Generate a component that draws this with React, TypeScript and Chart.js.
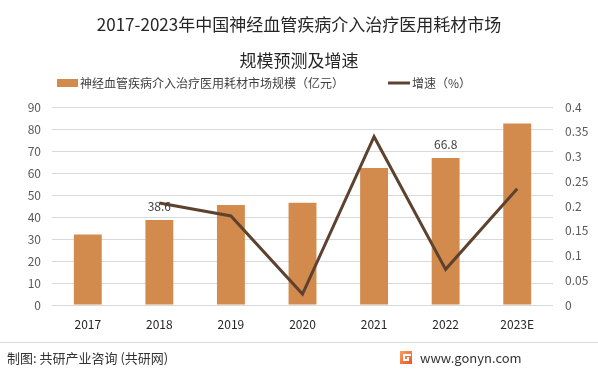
import React, { useEffect, useRef } from "react";
import { Chart, registerables } from "chart.js";

Chart.register(...registerables);

const categories = ["2017", "2018", "2019", "2020", "2021", "2022", "2023E"];
const marketSize = [32, 38.6, 45.5, 46.5, 62.3, 66.8, 82.5];
const growthRate = [null, 0.206, 0.18, 0.022, 0.34, 0.072, 0.235];
const labeledIndexes = [1, 5];
const titleLines = ["2017-2023年中国神经血管疾病介入治疗医用耗材市场", "规模预测及增速"];
const barLegend = "神经血管疾病介入治疗医用耗材市场规模（亿元）";
const lineLegend = "增速（%）";
const sourceText = "制图: 共研产业咨询 (共研网)";
const siteText = "www.gonyn.com";

const FONT = '"Noto Sans CJK SC", "Noto Sans", sans-serif';
const BAR_COLOR = "#D38B4D";
const LINE_COLOR = "#5E4230";

const decorPlugin = {
  id: "decor",
  afterDatasetsDraw(chart: any) {
    const ctx = chart.ctx;
    const meta = chart.getDatasetMeta(0);
    ctx.save();
    ctx.font = `12px ${FONT}`;
    ctx.fillStyle = "#404040";
    ctx.textAlign = "center";
    ctx.textBaseline = "middle";
    labeledIndexes.forEach((i) => {
      const el = meta.data[i];
      ctx.fillText(String(marketSize[i]), el.x, el.y - 14);
    });
    ctx.restore();
  },
  afterDraw(chart: any) {
    const ctx = chart.ctx;
    const W = chart.width;
    ctx.save();
    // title
    ctx.fillStyle = "#262626";
    ctx.font = `17px ${FONT}`;
    ctx.textAlign = "center";
    ctx.textBaseline = "middle";
    ctx.fillText(titleLines[0], W / 2, 25);
    ctx.fillText(titleLines[1], W / 2, 61);
    // legend
    ctx.font = `12px ${FONT}`;
    ctx.textAlign = "left";
    ctx.fillStyle = BAR_COLOR;
    ctx.fillRect(57, 79, 21, 8);
    ctx.fillStyle = "#404040";
    ctx.fillText(barLegend, 80, 83);
    ctx.strokeStyle = LINE_COLOR;
    ctx.lineWidth = 3;
    ctx.beginPath();
    ctx.moveTo(388, 83);
    ctx.lineTo(410, 83);
    ctx.stroke();
    ctx.fillText(lineLegend, 412, 83);
    // separator
    ctx.strokeStyle = "#D9D9D9";
    ctx.lineWidth = 1;
    ctx.beginPath();
    ctx.moveTo(0, 342.5);
    ctx.lineTo(W, 342.5);
    ctx.stroke();
    // footer
    ctx.fillStyle = "#333333";
    ctx.font = `13px ${FONT}`;
    ctx.fillText(sourceText, 7, 358);
    ctx.fillText(siteText, 420, 358);
    // logo
    const grad = ctx.createLinearGradient(400, 351, 412, 364);
    grad.addColorStop(0, "#F7A35C");
    grad.addColorStop(1, "#E8532B");
    ctx.fillStyle = grad;
    ctx.fillRect(400, 351, 12, 13);
    ctx.fillStyle = "#ffffff";
    ctx.fillRect(403, 354, 8, 2);
    ctx.fillRect(403, 354, 2, 7);
    ctx.fillRect(403, 359, 6, 2);
    ctx.fillRect(407, 357, 2, 4);
    ctx.restore();
  },
};

export default function App() {
  const ref = useRef<HTMLCanvasElement>(null);
  useEffect(() => {
    document.body.style.margin = "0";
    const chart = new Chart(ref.current as HTMLCanvasElement, {
      type: "bar",
      data: {
        labels: categories,
        datasets: [
          {
            type: "bar",
            data: marketSize,
            backgroundColor: BAR_COLOR,
            yAxisID: "y",
            barPercentage: 0.39,
            categoryPercentage: 1,
            order: 2,
          },
          {
            type: "line",
            data: growthRate as any,
            borderColor: LINE_COLOR,
            borderWidth: 3,
            pointRadius: 0,
            tension: 0,
            yAxisID: "y1",
            order: 1,
          } as any,
        ],
      },
      options: {
        animation: false,
        responsive: false,
        maintainAspectRatio: false,
        layout: { padding: { top: 107, bottom: 0, left: 0, right: 0 } },
        plugins: {
          legend: { display: false },
          title: { display: false },
          tooltip: { enabled: false },
        },
        scales: {
          x: {
            grid: { display: false, drawTicks: false },
            border: { display: false },
            ticks: { font: { family: FONT, size: 12 }, color: "#262626", padding: 12 },
            afterFit: (s: any) => { s.height = 70; },
          },
          y: {
            position: "left",
            min: 0,
            max: 90,
            ticks: { stepSize: 10, font: { family: FONT, size: 12 }, color: "#595959", padding: 11 },
            grid: { color: "#D9D9D9", drawTicks: false },
            border: { display: false },
            afterFit: (s: any) => { s.width = 52; },
          },
          y1: {
            position: "right",
            min: 0,
            max: 0.4,
            ticks: {
              stepSize: 0.05,
              font: { family: FONT, size: 12 },
              color: "#595959",
              padding: 12,
              callback: (v: any) => String(Number(Number(v).toFixed(2))),
            },
            grid: { display: false, drawTicks: false },
            border: { display: false },
            afterFit: (s: any) => { s.width = 45; },
          },
        },
      },
      plugins: [decorPlugin],
    });
    return () => chart.destroy();
  }, []);
  return (
    <div style={{ width: 598, height: 375 }}>
      <canvas ref={ref} width={598} height={375} style={{ width: 598, height: 375, display: "block" }} />
    </div>
  );
}
